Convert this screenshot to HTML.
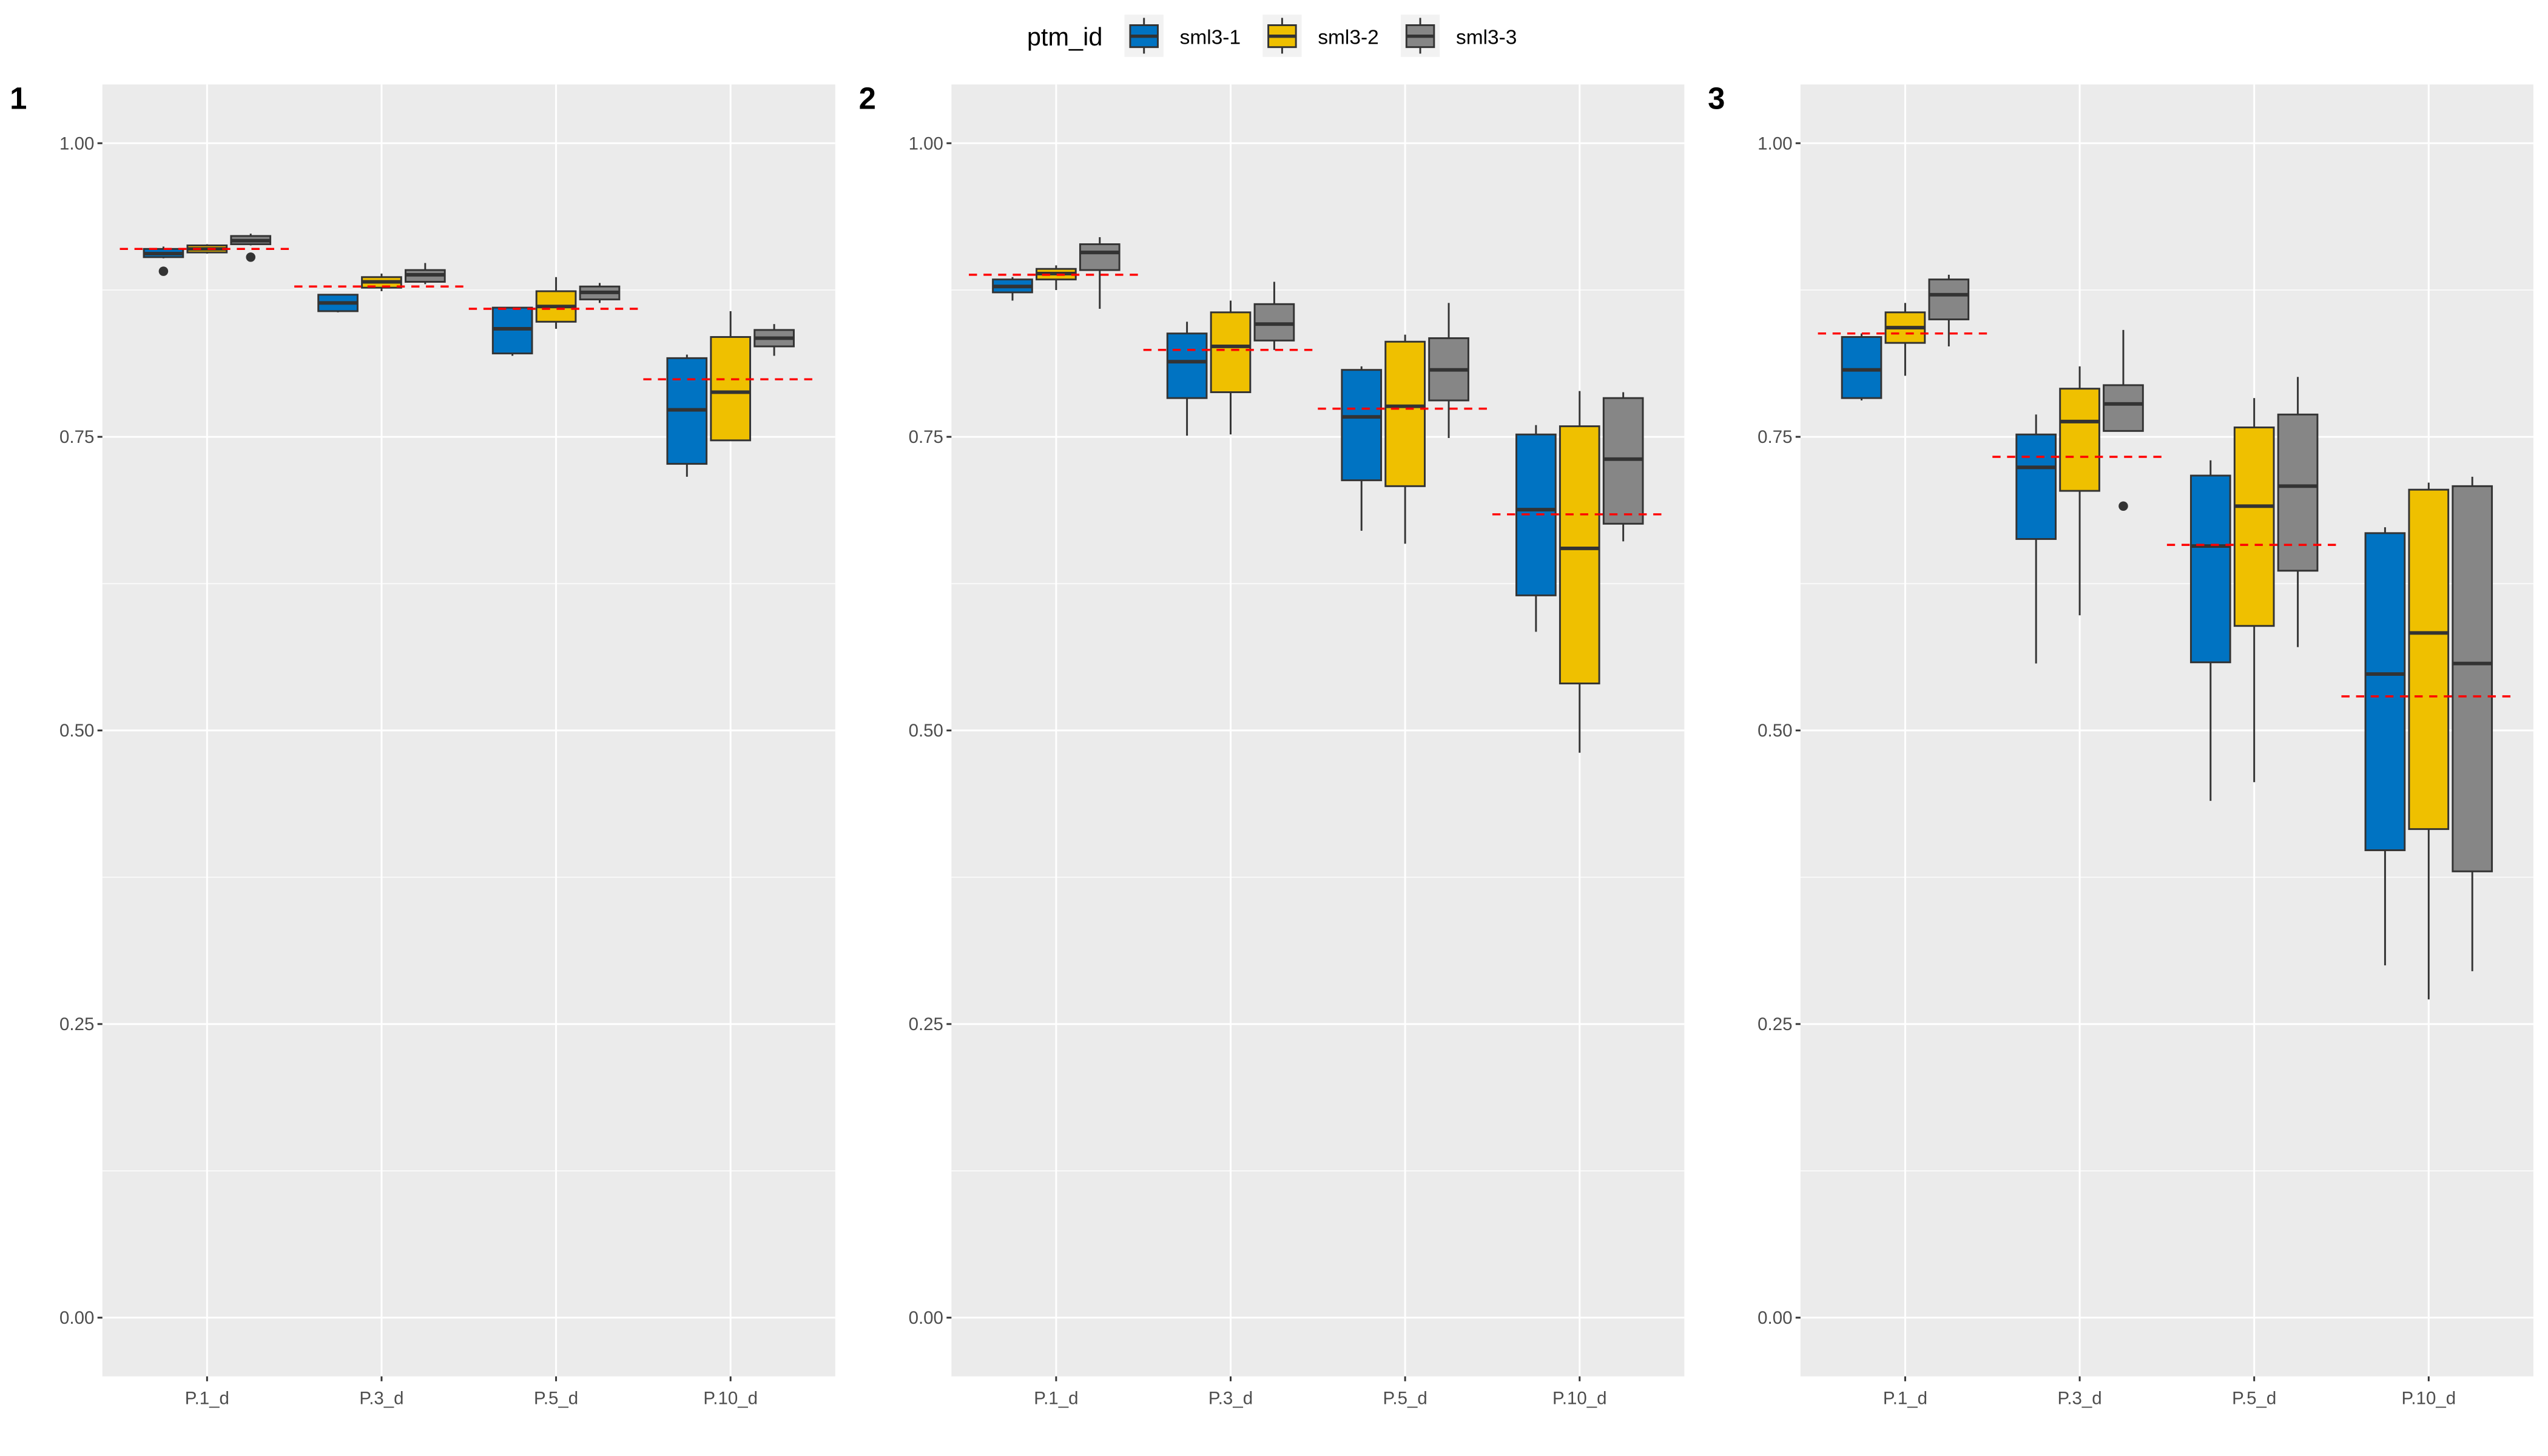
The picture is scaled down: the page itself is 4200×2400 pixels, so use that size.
<!DOCTYPE html>
<html><head><meta charset="utf-8"><style>
html,body{margin:0;padding:0;background:#fff;}
svg{display:block;font-family:"Liberation Sans",sans-serif;}
</style></head><body>
<svg id="chart" width="4200" height="2400" viewBox="0 0 1568 896" xmlns="http://www.w3.org/2000/svg">
<g id="legend">
<text x="632" y="28" font-size="15.5" fill="#000">ptm_id</text>
</g>
</svg>
<script>
const categories = ["P.1_d","P.3_d","P.5_d","P.10_d"];
const seriesNames = ["sml3-1","sml3-2","sml3-3"];
const panelLabels = ["1","2","3"];
const yTicks = [0,0.25,0.5,0.75,1];
const yTickLabels = ["0.00","0.25","0.50","0.75","1.00"];
// each box: [whiskerLow, q1, median, q3, whiskerHigh]
const panel1Boxes = [
 [[0.902,0.903,0.906,0.910,0.912],[0.906,0.907,0.910,0.913,0.914],[0.913,0.914,0.917,0.921,0.923]],
 [[0.856,0.857,0.864,0.871,0.871],[0.874,0.877,0.882,0.886,0.889],[0.880,0.882,0.888,0.892,0.898]],
 [[0.819,0.821,0.842,0.860,0.860],[0.842,0.848,0.861,0.874,0.886],[0.864,0.867,0.873,0.878,0.881]],
 [[0.716,0.727,0.773,0.817,0.820],[0.747,0.747,0.788,0.835,0.857],[0.819,0.827,0.834,0.841,0.846]]
];
const panel2Boxes = [
 [[0.866,0.873,0.878,0.884,0.886],[0.875,0.884,0.889,0.893,0.896],[0.859,0.892,0.907,0.914,0.920]],
 [[0.751,0.783,0.814,0.838,0.848],[0.752,0.788,0.827,0.856,0.866],[0.824,0.832,0.846,0.863,0.882]],
 [[0.670,0.713,0.767,0.807,0.810],[0.659,0.708,0.776,0.831,0.837],[0.749,0.781,0.807,0.834,0.864]],
 [[0.584,0.615,0.688,0.752,0.760],[0.481,0.540,0.655,0.759,0.789],[0.661,0.676,0.731,0.783,0.788]]
];
const panel3Boxes = [
 [[0.781,0.783,0.807,0.835,0.838],[0.802,0.830,0.843,0.856,0.864],[0.827,0.850,0.871,0.884,0.888]],
 [[0.557,0.663,0.724,0.752,0.769],[0.598,0.704,0.763,0.791,0.810],[0.755,0.755,0.778,0.794,0.841]],
 [[0.440,0.558,0.657,0.717,0.730],[0.456,0.589,0.691,0.758,0.783],[0.571,0.636,0.708,0.769,0.801]],
 [[0.300,0.398,0.548,0.668,0.673],[0.271,0.416,0.583,0.705,0.711],[0.295,0.380,0.557,0.708,0.716]]
];
// outliers: [categoryIndex, seriesIndex, value]
const panel1Outliers = [[0,0,0.891],[0,2,0.903]];
const panel2Outliers = [];
const panel3Outliers = [[1,2,0.691]];
const panel1Means = [0.910,0.878,0.859,0.799];
const panel2Means = [0.888,0.824,0.774,0.684];
const panel3Means = [0.838,0.733,0.658,0.529];

const allBoxes=[panel1Boxes,panel2Boxes,panel3Boxes];
const allOutliers=[panel1Outliers,panel2Outliers,panel3Outliers];
const allMeans=[panel1Means,panel2Means,panel3Means];
const colors=["#0073C2","#EFC000","#868686"];
const NS="http://www.w3.org/2000/svg";
const svg=document.getElementById('chart');
const panelLefts=[63,585.5,1108];
const panelW=451, pTop=52, pBot=847;
function yScale(v){return pBot-(v+0.05)/1.1*(pBot-pTop);}
function xScale(p,c){return panelLefts[p]+(c+1-0.4)/4.2*panelW;}
function mk(tag,attrs,parent){const e=document.createElementNS(NS,tag);for(const k in attrs)e.setAttribute(k,attrs[k]);(parent||svg).appendChild(e);return e;}
const unit=panelW/4.2;
for(let p=0;p<3;p++){
 const g=mk('g',{});
 
 
 const L=panelLefts[p];
 const bg=mk('rect',{x:L,y:pTop,width:panelW,height:pBot-pTop,fill:'#EBEBEB'},g);
 
 
 for(let i=0;i<yTicks.length-1;i++){const v=(yTicks[i]+yTicks[i+1])/2;
  mk('line',{x1:L,x2:L+panelW,y1:yScale(v),y2:yScale(v),stroke:'#fff','stroke-width':0.5},g);}
 mk('line',{x1:L,x2:L+panelW,y1:yScale(1.0625+0.0)-0,y2:yScale(1.0625),stroke:'none'},g);
 yTicks.forEach((v,i)=>{const y=yScale(v);
  mk('line',{x1:L,x2:L+panelW,y1:y,y2:y,stroke:'#fff','stroke-width':1.1},g);
  mk('line',{x1:L-3,x2:L,y1:y,y2:y,stroke:'#333','stroke-width':1.1},g);
  const t=mk('text',{x:L-5,y:y+3.8,'font-size':11,fill:'#4D4D4D','text-anchor':'end'},g);
  t.textContent=yTickLabels[i];
  
  
 });
 categories.forEach((c,ci)=>{const x=xScale(p,ci);
  mk('line',{x1:x,x2:x,y1:pTop,y2:pBot,stroke:'#fff','stroke-width':1.1},g);
  mk('line',{x1:x,x2:x,y1:pBot,y2:pBot+3,stroke:'#333','stroke-width':1.1},g);
  const t=mk('text',{x:x,y:pBot+17,'font-size':11,fill:'#4D4D4D','text-anchor':'middle'},g);
  t.textContent=c;
  
  
 });
 const lab=mk('text',{x:L-57,y:67,'font-size':19,'font-weight':'bold',fill:'#000'},g);
 lab.textContent=panelLabels[p];
 
 
 allBoxes[p].forEach((cat,ci)=>{
  cat.forEach((b,si)=>{
   const cx=xScale(p,ci)+(si-1)*0.25*unit;
   const hw=0.25*unit*0.9/2*1.0;
   const bw=hw;
   const bx=mk('g',{},g);
   
   
   mk('line',{x1:cx,x2:cx,y1:yScale(b[4]),y2:yScale(b[3]),stroke:'#333','stroke-width':1.1},bx);
   mk('line',{x1:cx,x2:cx,y1:yScale(b[1]),y2:yScale(b[0]),stroke:'#333','stroke-width':1.1},bx);
   mk('rect',{x:cx-bw,y:yScale(b[3]),width:2*bw,height:Math.max(0.5,yScale(b[1])-yScale(b[3])),fill:colors[si],stroke:'#333','stroke-width':1.1},bx);
   mk('line',{x1:cx-bw,x2:cx+bw,y1:yScale(b[2]),y2:yScale(b[2]),stroke:'#333','stroke-width':2.2},bx);
  });
 });
 allOutliers[p].forEach(o=>{
  const cx=xScale(p,o[0])+(o[1]-1)*0.25*unit;
  const c=mk('circle',{cx:cx,cy:yScale(o[2]),r:2.9,fill:'#333'},g);
  
  
 });
 allMeans[p].forEach((m,ci)=>{
  const x=xScale(p,ci);
  const ln=mk('line',{x1:x-0.5*unit,x2:x+0.5*unit,y1:yScale(m),y2:yScale(m),stroke:'#FF0000','stroke-width':1.3,'stroke-dasharray':'5 4'},g);
  
  
 });
}
const lg=document.getElementById('legend');
seriesNames.forEach((s,i)=>{
 const kx=692+i*85;
 const k=mk('g',{},lg);
 
 
 mk('rect',{x:kx,y:9,width:24,height:26,fill:'#F2F2F2'},k);
 mk('line',{x1:kx+12,x2:kx+12,y1:11,y2:33,stroke:'#333','stroke-width':1.1},k);
 mk('rect',{x:kx+3.5,y:15.5,width:17,height:13.5,fill:colors[i],stroke:'#333','stroke-width':1.1},k);
 mk('line',{x1:kx+3.5,x2:kx+20.5,y1:22.3,y2:22.3,stroke:'#333','stroke-width':2},k);
 const t=mk('text',{x:kx+34,y:27,'font-size':12.5,fill:'#000'},k);
 t.textContent=s;
});
</script>
</body></html>
